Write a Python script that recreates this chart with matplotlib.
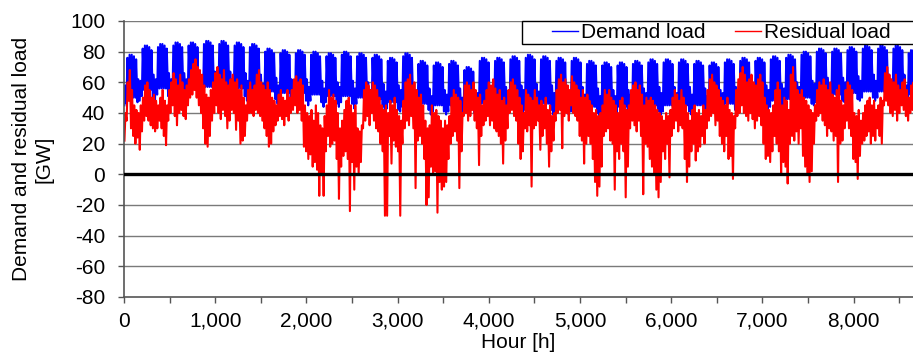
import matplotlib
matplotlib.use("Agg")
import matplotlib.pyplot as plt
import numpy as np
from matplotlib.patches import Rectangle
from matplotlib.ticker import FuncFormatter, MultipleLocator

plt.rcParams['font.family'] = ['Liberation Sans', 'DejaVu Sans']
plt.rcParams['axes.unicode_minus'] = False

# ---- weekly demand levels (GW), week w = days 7w..7w+6 (day 7w Sunday) ----
wd_peak = [78, 84, 85, 86, 86, 87, 87, 86, 85, 82, 81, 81, 80, 79, 80, 79, 78, 76, 79, 74,
           73, 74, 70, 76, 76, 77, 78, 77, 76, 76, 74, 73, 73, 74, 75, 75, 75, 74, 73, 75,
           76, 76, 77, 78, 80, 82, 82, 83, 84, 84, 84, 81, 70]
wd_trough = [50, 55, 56, 56, 57, 57, 57, 56, 55, 54, 53, 53, 52, 51, 51, 50, 49, 47, 48, 46,
             45, 45, 44, 46, 46, 46, 46, 46, 45, 45, 44, 44, 44, 45, 45, 45, 45, 45, 45, 46,
             46, 47, 48, 49, 50, 51, 52, 53, 54, 54, 54, 52, 48]
we_peak = [58, 61, 62, 62, 62, 63, 63, 62, 61, 59, 58, 58, 57, 56, 57, 56, 55, 54, 55, 52,
           51, 52, 50, 53, 53, 54, 55, 54, 53, 53, 52, 51, 51, 52, 53, 53, 53, 52, 51, 53,
           54, 54, 55, 56, 57, 59, 59, 60, 61, 61, 61, 58, 52]
we_trough = [45, 48, 49, 49, 50, 50, 50, 49, 48, 47, 46, 46, 45, 44, 44, 43, 42, 40, 41, 40,
             39, 39, 38, 40, 40, 40, 40, 40, 39, 39, 38, 38, 38, 39, 39, 39, 39, 39, 39, 40,
             40, 41, 42, 43, 44, 45, 46, 47, 48, 48, 48, 46, 44]
# day-of-week adjustments (Sun..Sat) on top of the weekly levels (GW)
dow_peak_adj = [0, -2, 0, 0, -1, -3, 4]
dow_trough_adj = [0, -4, 0, 0, 0, 0, 2]

# ---- daily residual load high / low (GW) ----
res_hi = [40, 60, 68, 55, 45, 42, 40, 45, 50, 58,
          60, 55, 50, 52, 48, 45, 50, 55, 48, 45,
          55, 60, 66, 62, 58, 65, 60, 55, 58, 62,
          68, 72, 75, 70, 68, 65, 58, 52, 50, 55,
          60, 66, 70, 65, 62, 68, 60, 58, 62, 65,
          60, 62, 55, 58, 50, 45, 55, 60, 55, 58,
          65, 68, 60, 58, 55, 60, 55, 50, 48, 45,
          52, 55, 50, 48, 55, 50, 55, 62, 64, 60,
          62, 58, 45, 40, 38, 42, 35, 45, 40, 32,
          30, 38, 45, 55, 50, 52, 48, 40, 30, 35,
          42, 48, 50, 45, 40, 45, 30, 28, 32, 55,
          60, 58, 55, 60, 58, 55, 50, 45, 42, 45,
          40, 48, 45, 50, 42, 38, 35, 48, 60, 62,
          65, 58, 60, 55, 50, 52, 45, 35, 30, 32,
          45, 40, 42, 38, 35, 30, 35, 32, 38, 50,
          55, 52, 50, 48, 40, 58, 60, 58, 55, 60,
          55, 50, 52, 45, 48, 55, 60, 58, 62, 56,
          52, 55, 48, 50, 45, 55, 60, 62, 58, 55,
          50, 45, 40, 55, 52, 50, 48, 55, 50, 45,
          48, 45, 50, 42, 45, 38, 40, 55, 62, 65,
          60, 62, 58, 55, 64, 60, 58, 55, 50, 55,
          50, 52, 48, 45, 40, 42, 38, 40, 45, 55,
          52, 55, 50, 48, 45, 40, 48, 50, 45, 42,
          45, 55, 58, 60, 55, 58, 52, 45, 50, 48,
          50, 48, 45, 42, 40, 38, 35, 40, 38, 42,
          50, 55, 52, 48, 55, 50, 45, 40, 35, 42,
          45, 40, 42, 38, 45, 42, 55, 62, 65, 60,
          58, 55, 50, 48, 45, 50, 42, 40, 38, 55,
          62, 66, 70, 65, 60, 62, 65, 60, 58, 62,
          65, 60, 50, 45, 42, 40, 45, 55, 60, 55,
          45, 50, 48, 42, 65, 70, 60, 55, 52, 55,
          50, 48, 45, 42, 40, 45, 55, 60, 58, 62,
          58, 55, 60, 52, 50, 55, 58, 48, 45, 55,
          60, 58, 55, 40, 38, 42, 35, 40, 45, 48,
          50, 45, 48, 42, 45, 50, 48, 66, 70, 65,
          62, 60, 65, 58, 55, 60, 62, 55, 50, 58, 60, 55, 52, 50, 48]
res_lo = [22, 35, 48, 30, 25, 20, 24, 16, 28, 35,
          38, 35, 32, 30, 28, 30, 35, 30, 25, 19,
          35, 40, 45, 38, 32, 40, 42, 38, 36, 45,
          50, 52, 55, 50, 45, 40, 30, 20, 18, 25,
          35, 40, 45, 40, 36, 42, 38, 30, 35, 42,
          40, 29, 35, 20, 22, 25, 35, 40, 40, 38,
          42, 40, 38, 35, 30, 25, 18, 20, 28, 32,
          35, 38, 36, 32, 38, 35, 40, 42, 45, 40,
          42, 35, 18, 15, 10, 13, 5, 8, 3, -14,
          0, -14, 15, 25, 18, 20, 22, 10, -16, 5,
          12, 15, 10, -24, 8, -10, 5, 0, 8, 30,
          35, 38, 32, 40, 35, 30, 28, 20, 15, -27,
          -27, 25, 7, 22, 18, 15, -27, 20, 30, 35,
          32, 38, 30, -9, 22, 25, 20, 10, -20, -15,
          5, 0, 2, -25, -5, -10, -8, -5, 10, 20,
          25, 28, 22, -9, 15, 38, 40, 35, 38, 42,
          35, 30, 6, 25, 32, 35, 38, 32, 35, 30,
          28, 25, 20, 7, 22, 30, 40, 42, 38, 35,
          20, 10, 15, 30, 28, 32, -8, 30, 32, 35,
          16, 25, 30, 20, 5, 15, 22, 35, 40, 42,
          17, 38, 40, 35, 45, 40, 38, 35, 25, 22,
          7, 20, 25, 20, 10, -5, -14, -8, 5, 25,
          28, 30, 22, 20, -10, 15, 10, 20, 15, -15,
          5, 30, 35, 32, 28, 35, 25, -13, 20, 18,
          10, 5, 0, -10, -15, -5, 15, 10, 20, -2,
          25, 30, 35, 28, 32, 30, 10, -5, 5, 15,
          20, 9, 15, 18, 25, 20, 30, 35, 38, 40,
          32, 35, 25, 20, 15, 25, 10, 12, -3, 30,
          38, 40, 45, 40, 38, 35, 40, 36, 30, 35,
          38, 32, 20, 10, 12, 8, 15, 25, 20, 15,
          0, 8, 5, -6, 20, 25, 22, 28, 20, 30,
          12, 5, 0, -5, 2, 20, 35, 38, 40, 35,
          32, 25, 30, 28, 22, 25, -5, 20, 22, 30,
          35, 30, 25, 10, 8, -3, 12, 20, 22, 25,
          28, 20, 25, 22, 30, 25, 20, 45, 48, 45,
          40, 38, 42, 35, 40, 45, 42, 38, 35, 40, 42, 38, 35, 32, 30]

y_ticks = [-80, -60, -40, -20, 0, 20, 40, 60, 80, 100]
x_major = [0, 1000, 2000, 3000, 4000, 5000, 6000, 7000, 8000]

# ---- build hourly-position point lists from the values above ----
n_days = len(res_hi)
dem_x, dem_y, res_x, res_y = [], [], [], []
for d in range(n_days):
    w = d // 7
    k = d % 7
    weekend = k in (0, 6)
    lo = (we_trough[w] if weekend else wd_trough[w]) + dow_trough_adj[k]
    hi = (we_peak[w] if weekend else wd_peak[w]) + dow_peak_adj[k]
    dem_x += [24 * d + 4, 24 * d + 13]
    dem_y += [lo, hi]
    res_x += [24 * d + 5, 24 * d + 16]
    res_y += [res_lo[d], res_hi[d]]

W, H = 913, 360
fig = plt.figure(figsize=(W / 100, H / 100), dpi=100)
ax = fig.add_axes([124 / W, 1 - 297 / H, 1 - 124 / W, (297 - 21) / H])

grid_c = '#7a7a7a'
for yv in y_ticks:
    if yv != 0 and yv != -80:
        ax.axhline(yv, color=grid_c, lw=1.0, zorder=1)

l1, = ax.plot(dem_x, dem_y, color='#0000FF', lw=1.5, zorder=2, label='Demand load')
l2, = ax.plot(res_x, res_y, color='#FF0000', lw=1.5, zorder=2.5, label='Residual load')
ax.axhline(0, color='black', lw=2.4, zorder=3)

ax.set_xlim(0, 8651)
ax.set_ylim(-80, 100)
ax.set_yticks(y_ticks)
ax.set_xticks(x_major)
ax.xaxis.set_minor_locator(MultipleLocator(500))
ax.xaxis.set_major_formatter(FuncFormatter(lambda v, p: f"{int(v):,}"))
ax.yaxis.set_major_formatter(FuncFormatter(lambda v, p: f"{int(v)}"))

for s in ['top', 'right']:
    ax.spines[s].set_visible(False)
ax.spines['left'].set_color('#555555')
ax.spines['bottom'].set_color('#555555')
ax.spines['left'].set_linewidth(1.2)
ax.spines['bottom'].set_linewidth(1.2)

ax.tick_params(axis='y', which='major', length=4.5, width=1, color='#555555',
               labelsize=15, pad=9)
ax.tick_params(axis='x', which='both', length=4.5, width=1, color='#555555',
               labelsize=15, pad=6)

ax.set_xlabel('Hour [h]', fontsize=15, labelpad=2)
fig.text(33 / W, 1 - 159 / H, 'Demand and residual load\n[GW]', rotation=90,
         ha='center', va='center', multialignment='center', fontsize=15,
         linespacing=1.25)

fig.add_artist(Rectangle((522 / W, 1 - 44 / H), 0.5, 23 / H, transform=fig.transFigure,
                         facecolor='white', edgecolor='black', lw=1.0, zorder=4))
leg = fig.legend(handles=[l1, l2], loc='center left', bbox_to_anchor=(552 / W, 1 - 33 / H),
                 bbox_transform=fig.transFigure, ncol=2, frameon=False, fontsize=15,
                 borderpad=0, borderaxespad=0, handlelength=1.25, handletextpad=0.15,
                 columnspacing=1.4)
leg.set_zorder(5)
for lh in leg.get_lines():
    lh.set_linewidth(1.0)

fig.savefig('out.png', dpi=100)
